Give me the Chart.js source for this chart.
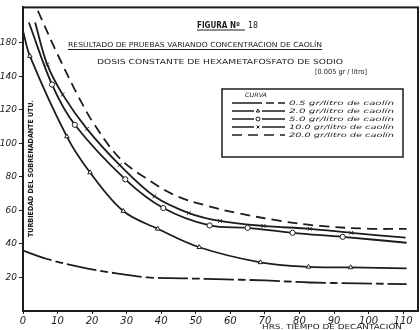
<!DOCTYPE html>
<html lang="es">
<head>
<meta charset="utf-8">
<title>Figura Nº 18</title>
<script src="https://cdn.jsdelivr.net/npm/chart.js@4.4.1/dist/chart.umd.min.js"></script>
<style>
    html, body { margin: 0; padding: 0; background: #fff; }
    #wrap { width: 420px; height: 330px; }
</style>
</head>
<body>
<div id="wrap"><canvas id="fig18" width="420" height="330"></canvas></div>
<script>
// Hours of settling (x) and supernatant turbidity (y), one pair per curve
const hours05 = [0, 7, 17, 27, 36, 46, 56, 70, 83, 97, 111];
const turb05 = [36, 31, 26, 22.4, 20, 19.5, 19, 18.2, 17, 16.5, 16];

const hours2 = [0, 2, 12.7, 19.4, 29, 39, 51, 68.7, 82.6, 94.8, 111];
const turb2 = [167, 152, 104, 82.6, 59.6, 49, 38, 29, 26.3, 26, 25.4];

const hours5 = [1.7, 8.4, 15, 29.6, 40.6, 54, 65, 78, 92.5, 111];
const turb5 = [172, 135, 111, 78.5, 61.4, 51, 49.6, 46.6, 44.2, 40.7];

const hours10 = [3.5, 7, 11.5, 18.5, 28, 38, 48, 57, 69.6, 83, 95, 110.7];
const turb10 = [172, 147, 129, 108.6, 87, 68.4, 58.4, 53.7, 50.7, 49, 46.6, 43.7];

const hours20 = [4.3, 10, 16, 20.4, 28, 36.8, 44.6, 53.7, 62, 74.5, 86, 100.6, 111];
const turb20 = [179, 153, 128, 112, 91, 77.5, 68.4, 62.5, 58.4, 53.7, 50.7, 49, 49];

const curveLabels = [
    '0.5 gr/litro de caolín',
    '2.0 gr/litro de caolín',
    '5.0 gr/litro de caolín',
    '10.0 gr/litro de caolín',
    '20.0 gr/litro de caolín'
];

const xTicks = [0, 10, 20, 30, 40, 50, 60, 70, 80, 90, 100, 110];
const yTicks = [20, 40, 60, 80, 100, 120, 140, 160];
// the drawing labels its top tick "180"
const yTickLabels = ['20', '40', '60', '80', '100', '120', '140', '180'];

const INK = '#1c1c1c';

function pairs(xs, ys) {
    return xs.map((x, i) => ({ x: x, y: ys[i] }));
}

// no marker on the first and last point of a curve
function markerRadius(c) {
    const n = c.dataset.data.length;
    return (c.dataIndex === 0 || c.dataIndex === n - 1) ? 0 : 2.6;
}

function curve(label, xs, ys, dash, marker) {
    return {
        label: label,
        data: pairs(xs, ys),
        borderColor: INK,
        borderWidth: 1.8,
        borderDash: dash,
        pointStyle: marker || 'circle',
        pointRadius: marker ? markerRadius : 0,
        pointBackgroundColor: '#fff',
        pointBorderColor: INK,
        pointBorderWidth: 1,
        tension: 0.35,
        fill: false
    };
}

// text squeezed or stretched to span [left, right]
function fitText(ctx, text, left, right, baseline, font) {
    ctx.font = font;
    const w = ctx.measureText(text).width;
    ctx.save();
    ctx.translate(left, baseline);
    ctx.scale((right - left) / w, 1);
    ctx.fillText(text, 0, 0);
    ctx.restore();
}

function underline(ctx, x1, x2, y) {
    ctx.beginPath();
    ctx.moveTo(x1, y);
    ctx.lineTo(x2, y);
    ctx.stroke();
}

const figureText = {
    id: 'figureText',
    afterDatasetsDraw(chart) {
        const ctx = chart.ctx;
        const area = chart.chartArea;
        ctx.save();
        ctx.fillStyle = INK;
        ctx.strokeStyle = INK;
        ctx.textBaseline = 'alphabetic';

        // frame around the plot
        ctx.lineWidth = 2;
        ctx.strokeRect(area.left, area.top, area.right - area.left, area.bottom - area.top);

        // headings
        ctx.lineWidth = 1;
        fitText(ctx, 'FIGURA Nº', 197, 240, 28, 'bold 8px "DejaVu Sans"');
        fitText(ctx, '18', 248, 258, 28, '9px "DejaVu Sans"');
        underline(ctx, 197, 245, 30);
        fitText(ctx, 'RESULTADO DE PRUEBAS VARIANDO CONCENTRACION DE CAOLÍN', 68, 322, 47, '7px "DejaVu Sans"');
        underline(ctx, 68, 322, 49.5);
        fitText(ctx, 'DOSIS CONSTANTE DE HEXAMETAFOSFATO DE SODIO', 97, 343, 64, '7px "DejaVu Sans"');
        fitText(ctx, '[0.005 gr / litro]', 315, 367, 74, '7px "DejaVu Sans"');

        // y axis title, written inside the plot
        ctx.save();
        ctx.translate(33, 237);
        ctx.rotate(-Math.PI / 2);
        fitText(ctx, 'TURBIEDAD DEL SOBRENADANTE UTU.', 0, 137, 0, 'bold 7px "DejaVu Sans"');
        ctx.restore();

        // x axis title
        fitText(ctx, 'HRS. TIEMPO DE DECANTACIÓN', 262, 402, 329, '7px "DejaVu Sans"');

        // legend box
        ctx.lineWidth = 1.5;
        ctx.strokeRect(222, 89, 181, 68);
        fitText(ctx, 'CURVA', 245, 267, 97, 'italic 6px "DejaVu Sans"');
        chart.data.datasets.forEach((ds, i) => {
            const y = 103 + i * 8;
            ctx.lineWidth = 1.5;
            ctx.setLineDash(ds.borderDash || []);
            underline(ctx, 232, 285, y);
            ctx.setLineDash([]);
            if (ds.pointRadius !== 0) {
                ctx.fillStyle = '#fff';
                ctx.fillRect(254, y - 3, 8, 6);
                ctx.lineWidth = 1;
                Chart.helpers.drawPoint(ctx, {
                    pointStyle: ds.pointStyle,
                    radius: 2,
                    borderWidth: 1
                }, 258, y);
                ctx.fillStyle = INK;
            }
            fitText(ctx, curveLabels[i], 289, 394, y + 2, 'italic 6px "DejaVu Sans"');
        });
        ctx.restore();
    }
};

new Chart(document.getElementById('fig18'), {
    type: 'line',
    data: {
        datasets: [
            curve(curveLabels[0], hours05, turb05, [30, 4, 8, 4], null),
            curve(curveLabels[1], hours2, turb2, [], 'triangle'),
            curve(curveLabels[2], hours5, turb5, [], 'circle'),
            curve(curveLabels[3], hours10, turb10, [], 'crossRot'),
            curve(curveLabels[4], hours20, turb20, [10, 6], null)
        ]
    },
    options: {
        responsive: false,
        animation: false,
        devicePixelRatio: 1,
        layout: { padding: { top: 4, right: 2, left: 0, bottom: 0 } },
        plugins: {
            legend: { display: false },
            title: { display: false },
            tooltip: { enabled: false }
        },
        scales: {
            x: {
                type: 'linear',
                min: 0,
                max: 114.3,
                afterBuildTicks: s => { s.ticks = xTicks.map(v => ({ value: v })); },
                afterFit: s => { s.height = 19; },
                border: { color: INK, width: 2 },
                grid: { drawOnChartArea: false, color: INK, tickLength: 3 },
                ticks: {
                    color: INK,
                    padding: 1,
                    maxRotation: 0,
                    font: { family: 'DejaVu Sans', size: 10, style: 'italic' }
                }
            },
            y: {
                type: 'linear',
                min: 0,
                max: 181,
                afterBuildTicks: s => { s.ticks = yTicks.map(v => ({ value: v })); },
                afterFit: s => { s.width = 23; },
                border: { color: INK, width: 2 },
                grid: { drawOnChartArea: false, color: INK, tickLength: 4 },
                ticks: {
                    color: INK,
                    padding: 2,
                    font: { family: 'DejaVu Sans', size: 9, style: 'italic' },
                    callback: (v) => yTickLabels[yTicks.indexOf(v)]
                }
            }
        }
    },
    plugins: [figureText]
});
</script>
</body>
</html>
